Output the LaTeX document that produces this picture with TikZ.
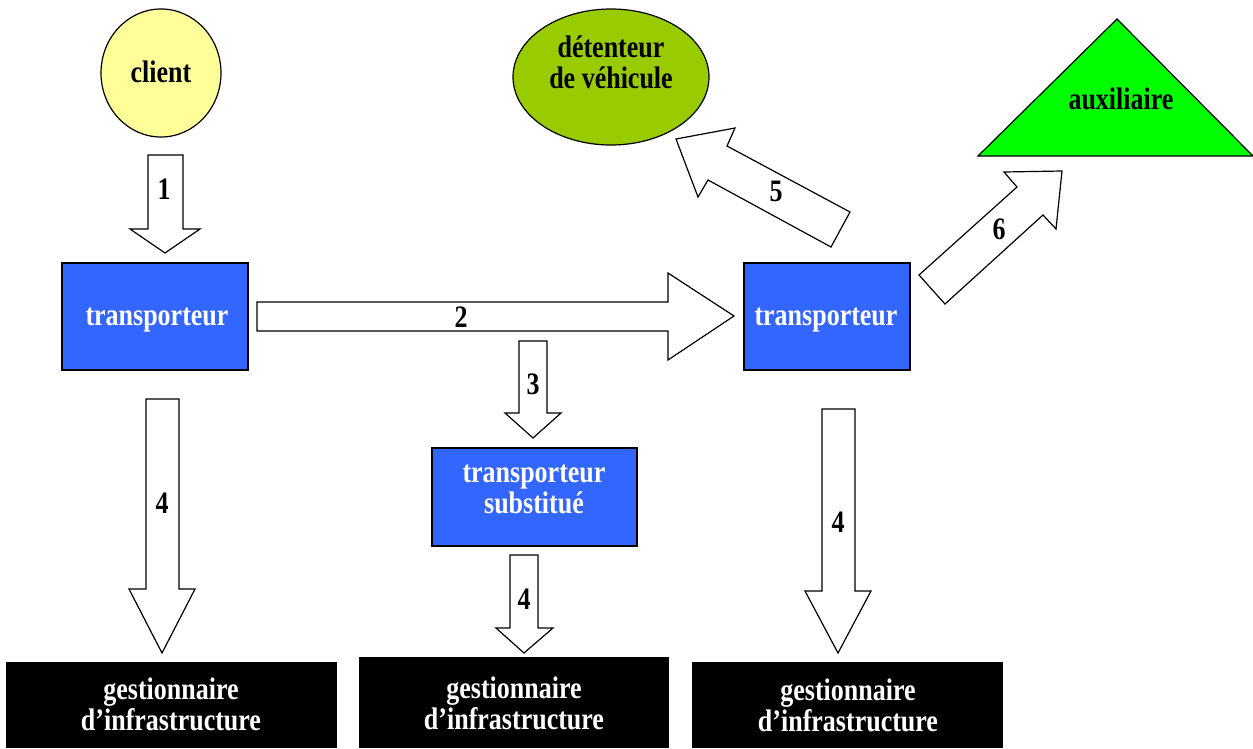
\documentclass[tikz,border=0pt]{standalone}
\usepackage{fontspec}
\setmainfont{Liberation Serif}
\usetikzlibrary{shapes.geometric}
\definecolor{boxblue}{HTML}{3366FF}
\definecolor{clientyellow}{HTML}{FFFF99}
\definecolor{olivegreen}{HTML}{99CC00}
\definecolor{auxgreen}{HTML}{00FF00}
\newcommand{\stretchtxt}[1]{\scalebox{1}[1.2]{\begin{tabular}{@{}c@{}}#1\end{tabular}}}
\tikzset{
  lbl/.style={font=\fontsize{26}{25.5}\selectfont\bfseries, align=center, inner sep=0pt},
  wlbl/.style={lbl, text=white},
  bluebox/.style={draw=black, line width=1.2pt, fill=boxblue},
  blockarrow/.style={draw=black, line width=1.2pt, fill=white, line join=miter},
}
\begin{document}
\begin{tikzpicture}[x=1pt,y=-1pt]
\useasboundingbox (0,0) rectangle (1253,748);
% shapes
\draw[line width=1.2pt, fill=clientyellow] (161,73) ellipse [x radius=60, y radius=64];
\node[lbl] (client) at (161,76) {\stretchtxt{client}};
\draw[line width=1.2pt, fill=olivegreen] (611,77) ellipse [x radius=98, y radius=68];
\node[lbl] (det) at (611,67) {\stretchtxt{détenteur\\de véhicule}};
\draw[line width=1.2pt, fill=auxgreen] (978,156) -- (1117,19) -- (1253,156) -- cycle;
\node[lbl] (aux) at (1121,103) {\stretchtxt{auxiliaire}};

\draw[bluebox] (62,263) rectangle (248,370);
\node[wlbl] (t1) at (157,319) {\stretchtxt{transporteur}};
\draw[bluebox] (744,263) rectangle (910,370);
\node[wlbl] (t2) at (826,319) {\stretchtxt{transporteur}};
\draw[bluebox] (432,448) rectangle (637,546);
\node[wlbl] (ts) at (534,492) {\stretchtxt{transporteur\\substitué}};

\fill[black] (6,662) rectangle (337,748);
\node[wlbl] (g1) at (171,709) {\stretchtxt{gestionnaire\\d’infrastructure}};
\fill[black] (359,657) rectangle (669,748);
\node[wlbl] (g2) at (514,708) {\stretchtxt{gestionnaire\\d’infrastructure}};
\fill[black] (692,662) rectangle (1003,748);
\node[wlbl] (g3) at (848,710) {\stretchtxt{gestionnaire\\d’infrastructure}};

% block arrows
% 1
\draw[blockarrow] (148,155) -- (183,155) -- (183,229) -- (200,229) -- (165,253) -- (130,229) -- (148,229) -- cycle;
\node[lbl] (n1) at (164,193) {\stretchtxt{1}};
% 2
\draw[blockarrow] (257,302) -- (668,302) -- (668,273) -- (734,316) -- (668,360) -- (668,331) -- (257,331) -- cycle;
\node[lbl] (n2) at (461,321) {\stretchtxt{2}};
% 3
\draw[blockarrow] (519,341) -- (547,341) -- (547,413) -- (561,413) -- (533,438) -- (505,413) -- (519,413) -- cycle;
\node[lbl] (n3) at (533,388) {\stretchtxt{3}};
% 4 left
\draw[blockarrow] (146,399) -- (179,399) -- (179,589) -- (195,589) -- (162,653) -- (129,589) -- (146,589) -- cycle;
\node[lbl] (n4a) at (162,507) {\stretchtxt{4}};
% 4 middle
\draw[blockarrow] (510,555) -- (538,555) -- (538,628) -- (553,628) -- (524,653) -- (496,628) -- (510,628) -- cycle;
\node[lbl] (n4b) at (524,603) {\stretchtxt{4}};
% 4 right
\draw[blockarrow] (822,409) -- (855,409) -- (855,591) -- (871,591) -- (838,653) -- (805,591) -- (822,591) -- cycle;
\node[lbl] (n4c) at (838,526) {\stretchtxt{4}};
% 5
\draw[blockarrow] (676,139) -- (735,128) -- (727,146) -- (850,212) -- (831,247) -- (708,180) -- (698,197) -- cycle;
\node[lbl] (n5) at (776,195) {\stretchtxt{5}};
% 6
\draw[blockarrow] (919,275) -- (1017,187) -- (1004,172) -- (1062,171) -- (1056,229) -- (1043,215) -- (945,304) -- cycle;
\node[lbl] (n6) at (999,233) {\stretchtxt{6}};
\end{tikzpicture}
\end{document}
